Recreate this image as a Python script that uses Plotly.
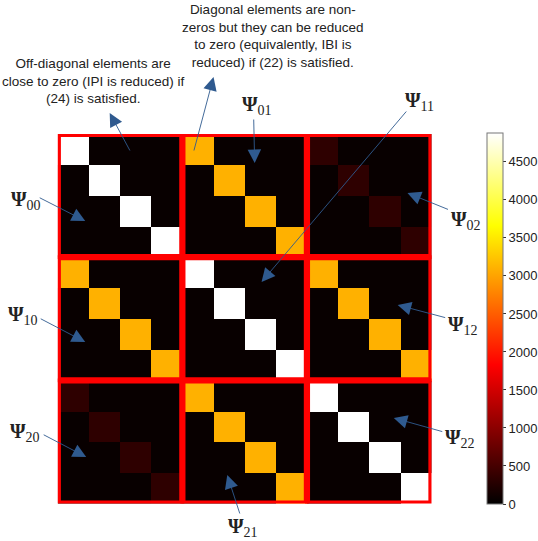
import plotly.graph_objects as go

W, H = 538, 541

# ---- data -------------------------------------------------------------
block_names = [["00", "01", "02"], ["10", "11", "12"], ["20", "21", "22"]]
# value on the diagonal of each 4x4 block
block_diag = [[4880, 3100, 330],
              [3100, 4880, 3100],
              [330, 3100, 4880]]
# value off the diagonal in each block
block_off = [[60, 60, 60],
             [60, 60, 60],
             [60, 60, 60]]
block_size = 4
cbar_ticks = [0, 500, 1000, 1500, 2000, 2500, 3000, 3500, 4000, 4500]
zmax = 4880

n = 3 * block_size
z = [[0] * n for _ in range(n)]
for bi in range(3):
    for bj in range(3):
        for i in range(block_size):
            for j in range(block_size):
                z[bi * block_size + i][bj * block_size + j] = (
                    block_diag[bi][bj] if i == j else block_off[bi][bj])

hot = [[0.0, "rgb(0,0,0)"], [0.375, "rgb(255,0,0)"],
       [0.75, "rgb(255,255,0)"], [1.0, "rgb(255,255,255)"]]

# pixel helpers
def px(x):
    return x / W

def py(y):
    return 1 - y / H

x0p, x1p, y0p, y1p = 59, 440.5, 134, 503.5

fig = go.Figure(go.Heatmap(
    z=z, x=list(range(n)), y=list(range(n)),
    colorscale=hot, zmin=0, zmax=zmax,
    colorbar=dict(
        x=px(497), xanchor="left", xpad=0,
        y=py(504), yanchor="bottom", ypad=0,
        len=(504 - 133) / H, lenmode="fraction",
        thickness=16, outlinewidth=1, outlinecolor="#777",
        tickvals=cbar_ticks, ticks="outside", ticklen=3,
        tickcolor="#333",
        tickfont=dict(family="Liberation Sans", size=13, color="#222"),
    ),
    hoverinfo="skip",
))

# red block rectangles
ins = 0.02
for bi in range(3):
    for bj in range(3):
        fig.add_shape(type="rect",
                      x0=bj * block_size - 0.5 + ins, x1=(bj + 1) * block_size - 0.5 - ins,
                      y0=bi * block_size - 0.5 + ins, y1=(bi + 1) * block_size - 0.5 - ins,
                      line=dict(color="#ff0000", width=5), xref="x", yref="y")

annotations = []
txt_font = dict(family="Liberation Sans", size=13.5, color="#222")
annotations.append(dict(
    text="Diagonal elements are non-<br>zeros but they can be reduced<br>to zero (equivalently, IBI is<br>reduced) if (22) is satisfied.",
    x=px(279), y=py(36), xref="paper", yref="paper", showarrow=False,
    xanchor="center", yanchor="middle", font=txt_font, align="center"))
annotations.append(dict(
    text="Off-diagonal elements are<br>close to zero (IPI is reduced) if<br>(24) is satisfied.",
    x=px(95), y=py(81), xref="paper", yref="paper", showarrow=False,
    xanchor="center", yanchor="middle", font=txt_font, align="center"))

psi_pos = {"00": (27, 200), "10": (23, 315), "20": (26, 432),
           "01": (262, 105), "11": (428, 102), "02": (476, 220),
           "12": (473, 325), "22": (470, 438), "21": (248, 527)}
for k, (xx, yy) in psi_pos.items():
    annotations.append(dict(
        text="<b>Ψ</b><sub>%s</sub>" % k, x=px(xx), y=py(yy),
        xref="paper", yref="paper", showarrow=False,
        xanchor="center", yanchor="middle",
        font=dict(family="Liberation Serif", size=20, color="#222")))

arrows = [((112, 113), (133, 152)), ((218, 77), (198, 152)),
          ((87, 221), (40, 197)), ((87, 342), (41, 318)), ((88, 457), (44, 434)),
          ((260, 163), (259, 118)), ((267, 282), (413, 110)),
          ((416, 193), (458, 210)), ((406, 305), (455, 318)),
          ((402, 418), (452, 432)), ((232, 475), (245, 515))]
for (hx, hy), (tx, ty) in arrows:
    annotations.append(dict(
        text="", x=px(hx), y=py(hy), xref="paper", yref="paper",
        ax=tx - hx, ay=ty - hy, axref="pixel", ayref="pixel",
        showarrow=True, arrowhead=2, arrowsize=3, arrowwidth=0.9,
        arrowcolor="#2F5A8F", standoff=0))

fig.update_layout(
    width=W, height=H, margin=dict(l=0, r=0, t=0, b=0),
    paper_bgcolor="white", plot_bgcolor="white",
    xaxis=dict(domain=[px(x0p), px(x1p)], range=[-0.5, n - 0.5],
               showticklabels=False, showgrid=False, zeroline=False, ticks=""),
    yaxis=dict(domain=[py(y1p), py(y0p)], range=[n - 0.5, -0.5],
               showticklabels=False, showgrid=False, zeroline=False, ticks=""),
    annotations=annotations, showlegend=False,
)

fig.write_html("out.html")
